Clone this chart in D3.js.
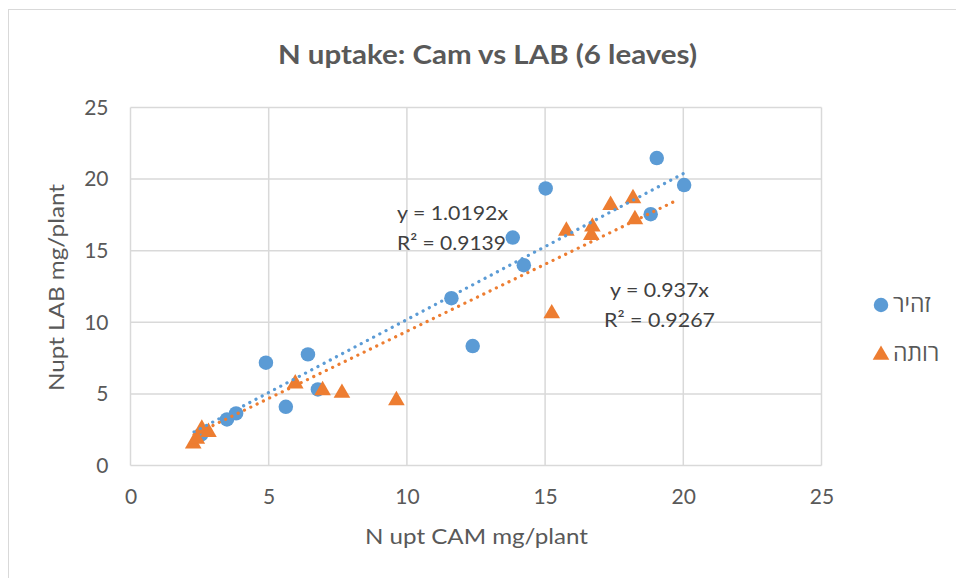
<!DOCTYPE html>
<html><head><meta charset="utf-8">
<script src="https://cdn.jsdelivr.net/npm/d3@7/dist/d3.min.js"></script>
<style>body{margin:0;background:#fff;} text{font-family:Lato,"Open Sans",sans-serif;}</style>
</head><body><svg id="c" width="956" height="578"></svg>
<script>
const seriesNames = ["זהיר", "רותה"];
const blueX = [2.55, 3.49, 3.82, 4.90, 5.62, 6.42, 6.78, 11.61, 12.38, 13.83, 14.23, 15.02, 18.82, 19.04, 20.03];
const blueY = [2.15, 3.22, 3.64, 7.18, 4.10, 7.76, 5.31, 11.68, 8.34, 15.92, 13.99, 19.35, 17.55, 21.47, 19.58];
const orangeX = [2.27, 2.40, 2.58, 2.82, 5.96, 6.95, 7.65, 9.62, 15.24, 15.77, 16.71, 16.67, 17.37, 18.18, 18.25];
const orangeY = [1.59, 1.93, 2.63, 2.40, 5.78, 5.31, 5.13, 4.62, 10.68, 16.45, 16.74, 16.15, 18.25, 18.72, 17.25];
const slopes = [1.0192, 0.937];
const r2 = ["0.9139", "0.9267"];
const trendRange = [[2.3, 20.0], [2.3, 19.8]];
const xTicks = [0, 5, 10, 15, 20, 25];
const yTicks = [0, 5, 10, 15, 20, 25];
const colors = ["#5b9bd5", "#ed7d31"];

const svg = d3.select("#c");
svg.append("rect").attr("x", 8.5).attr("y", 9.5).attr("width", 960).attr("height", 580)
  .attr("fill", "#fff").attr("stroke", "#d9d9d9").attr("stroke-width", 1);

const x = d3.scaleLinear().domain([0, 25]).range([130.5, 821.5]);
const y = d3.scaleLinear().domain([0, 25]).range([465.5, 107.5]);

const g = svg.append("g");
g.selectAll(".gx").data(xTicks).join("line")
  .attr("x1", d => x(d)).attr("x2", d => x(d)).attr("y1", y(0)).attr("y2", y(25))
  .attr("stroke", "#d9d9d9").attr("stroke-width", 1.5);
g.selectAll(".gy").data(yTicks).join("line")
  .attr("y1", d => y(d)).attr("y2", d => y(d)).attr("x1", x(0)).attr("x2", x(25))
  .attr("stroke", "#d9d9d9").attr("stroke-width", 1.5);

const xAxis = svg.append("g").attr("transform", `translate(0,${y(0)})`)
  .call(d3.axisBottom(x).tickValues(xTicks).tickSize(0).tickPadding(24));
xAxis.select(".domain").remove();
xAxis.selectAll("text").attr("font-size", 21).attr("fill", "#595959").style("font-family", "Lato, sans-serif");
const yAxis = svg.append("g").attr("transform", `translate(${x(0)},0)`)
  .call(d3.axisLeft(y).tickValues(yTicks).tickSize(0).tickPadding(22));
yAxis.select(".domain").remove();
yAxis.selectAll("text").attr("font-size", 21).attr("fill", "#595959").style("font-family", "Lato, sans-serif");

const sym = [d3.symbol().type(d3.symbolCircle).size(165), d3.symbol().type(d3.symbolTriangle).size(120)];
const data = [blueX.map((v, i) => [v, blueY[i]]), orangeX.map((v, i) => [v, orangeY[i]])];
data.forEach((pts, s) => {
  svg.append("g").selectAll("path").data(pts).join("path")
    .attr("d", sym[s]).attr("fill", colors[s])
    .attr("transform", d => `translate(${x(d[0])},${y(d[1]) + (s === 1 ? 1 : 0)})`);
});

slopes.forEach((m, s) => {
  const [a, b] = trendRange[s];
  svg.append("line").attr("x1", x(a)).attr("y1", y(m * a)).attr("x2", x(b)).attr("y2", y(m * b))
    .attr("stroke", colors[s]).attr("stroke-width", 3.2).attr("stroke-linecap", "round")
    .attr("stroke-dasharray", "0.1 6.9");
});

const eq = [[397, 220, 111, 109, 0], [610, 297, 99, 111, -6]];
slopes.forEach((m, s) => {
  const e = eq[s];
  svg.append("text").attr("x", e[0]).attr("y", e[1]).attr("font-size", 20).attr("fill", "#404040")
    .attr("textLength", e[2]).attr("lengthAdjust", "spacingAndGlyphs").text(`y = ${m}x`);
  svg.append("text").attr("x", e[0] + e[4]).attr("y", e[1] + 30).attr("font-size", 20).attr("fill", "#404040")
    .attr("textLength", e[3]).attr("lengthAdjust", "spacingAndGlyphs").text(`R² = ${r2[s]}`);
});

svg.append("text").attr("x", 278).attr("y", 64)
  .attr("font-size", 26).attr("font-weight", "bold").attr("fill", "#595959")
  .attr("textLength", 419).attr("lengthAdjust", "spacingAndGlyphs")
  .text("N uptake: Cam vs LAB (6 leaves)");

svg.append("text").attr("x", 365).attr("y", 544)
  .attr("font-size", 22).attr("fill", "#595959")
  .attr("textLength", 223).attr("lengthAdjust", "spacingAndGlyphs").text("N upt CAM mg/plant");
svg.append("text").attr("transform", "translate(64,391) rotate(-90)")
  .attr("font-size", 22).attr("fill", "#595959")
  .attr("textLength", 207).attr("lengthAdjust", "spacingAndGlyphs").text("Nupt LAB mg/plant");

const leg = [305, 354];
seriesNames.forEach((n, s) => {
  svg.append("path").attr("d", sym[s]).attr("fill", colors[s])
    .attr("transform", `translate(881,${leg[s] + (s === 1 ? 1 : 0)})`);
  svg.append("text").attr("x", 893).attr("y", leg[s] + 7).attr("font-size", 23).attr("fill", "#595959")
    .attr("text-anchor", "start").text(n);
});
</script></body></html>
